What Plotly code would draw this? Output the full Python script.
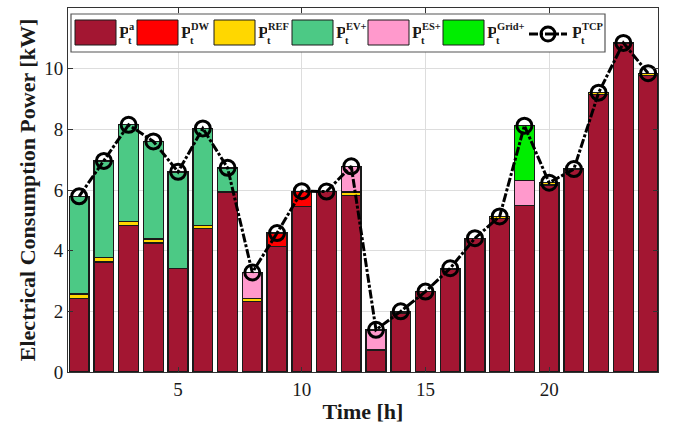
import plotly.graph_objects as go

hours = list(range(1, 25))
P_a   = [2.43, 3.63, 4.83, 4.25, 3.42, 4.74, 5.93, 2.32, 4.14, 5.46, 5.95, 5.82,
         0.73, 1.94, 2.65, 3.37, 4.41, 5.07, 5.48, 6.17, 6.69, 9.15, 10.85, 9.78]
P_dw  = [0, 0, 0, 0, 0, 0, 0, 0, 0.44, 0.50, 0, 0,
         0, 0, 0, 0, 0, 0, 0, 0, 0, 0, 0, 0]
P_ref = [0.14, 0.14, 0.13, 0.13, 0, 0.09, 0, 0.11, 0, 0, 0, 0.11,
         0, 0.06, 0, 0.05, 0, 0.06, 0, 0.07, 0, 0.06, 0, 0.07]
P_ev  = [3.22, 3.19, 3.19, 3.22, 3.18, 3.20, 0.80, 0, 0, 0, 0, 0,
         0, 0, 0, 0, 0, 0, 0, 0, 0, 0, 0, 0]
P_es  = [0, 0, 0, 0, 0, 0, 0, 0.85, 0, 0, 0, 0.85,
         0.66, 0, 0, 0, 0, 0, 0.83, 0, 0, 0, 0, 0]
P_grid = [0, 0, 0, 0, 0, 0, 0, 0, 0, 0, 0, 0,
          0, 0, 0, 0, 0, 0, 1.81, 0, 0, 0, 0, 0]
P_tcp = [5.79, 6.96, 8.15, 7.60, 6.60, 8.03, 6.73, 3.28, 4.58, 5.96, 5.95, 6.78,
         1.39, 2.00, 2.65, 3.42, 4.41, 5.13, 8.12, 6.24, 6.69, 9.21, 10.85, 9.85]

series_sup = ["a", "DW", "REF", "EV+", "ES+", "Grid+"]
series_vals = [P_a, P_dw, P_ref, P_ev, P_es, P_grid]
series_cols = ["#A31632", "#FF0000", "#FFD700", "#4CC985", "#FF99CC", "#00EE00"]
tcp_sup = "TCP"

FONT = "Liberation Serif"
TXT = "#1a1a1a"
W, H = 679, 433
ML, MR, MT, MB = 68, 21, 8, 61
PW, PH = W - ML - MR, H - MT - MB


def px(sx):
    return (sx - ML) / PW


def py(sy):
    return (H - MB - sy) / PH


fig = go.Figure()
for sup, vals, col in zip(series_sup, series_vals, series_cols):
    fig.add_trace(go.Bar(
        x=hours, y=vals, name="P_t^" + sup, width=0.8, showlegend=False,
        marker=dict(color=col, line=dict(color="#1a1a1a", width=1.4)),
    ))

TCP_DASH = "9px,2px,3px,2px"
fig.add_trace(go.Scatter(
    x=hours, y=P_tcp, name="P_t^" + tcp_sup, mode="lines+markers", showlegend=False,
    line=dict(color="black", width=3, dash=TCP_DASH),
    marker=dict(symbol="circle-open", size=15, color="black", line=dict(width=3)),
))

# ---- custom legend (large swatches, stacked sub/superscripts as in the reference)
shapes = []
annotations = []


def label(xp, text_sup):
    annotations.append(dict(xref="paper", yref="paper", x=px(xp), y=py(33),
                            xanchor="left", yanchor="middle", showarrow=False,
                            width=9, align="left", borderpad=0,
                            text="<b>P</b>", font=dict(family=FONT, size=17, color=TXT)))
    annotations.append(dict(xref="paper", yref="paper", x=px(xp + 10), y=py(26),
                            xanchor="left", yanchor="middle", showarrow=False, borderpad=0,
                            text="<b>" + text_sup + "</b>", font=dict(family=FONT, size=10.5, color=TXT)))
    annotations.append(dict(xref="paper", yref="paper", x=px(xp + 9), y=py(40),
                            xanchor="left", yanchor="middle", showarrow=False, borderpad=0,
                            text="<b>t</b>", font=dict(family=FONT, size=10.5, color=TXT)))


shapes.append(dict(type="rect", xref="paper", yref="paper",
                   x0=px(71), x1=px(605), y0=py(52), y1=py(14),
                   fillcolor="white", line=dict(color="#555555", width=1.2), layer="above"))
swatch_left = [75, 137, 214, 292, 368, 443]
for sx, col, sup in zip(swatch_left, series_cols, series_sup):
    shapes.append(dict(type="rect", xref="paper", yref="paper",
                       x0=px(sx), x1=px(sx + 41), y0=py(45), y1=py(20),
                       fillcolor=col, line=dict(color="#1a1a1a", width=1), layer="above"))
    label(sx + 43, sup)

# TCP line sample
lyc = 34
shapes.append(dict(type="line", xref="paper", yref="paper",
                   x0=px(529), x1=px(567), y0=py(lyc), y1=py(lyc),
                   line=dict(color="black", width=3, dash=TCP_DASH), layer="above"))
shapes.append(dict(type="circle", xref="paper", yref="paper",
                   x0=px(541), x1=px(555), y0=py(lyc + 7), y1=py(lyc - 7),
                   fillcolor="rgba(0,0,0,0)", line=dict(color="black", width=3), layer="above"))
label(571, tcp_sup)

axis_common = dict(
    showline=True, linecolor="#333333", linewidth=1, mirror="ticks",
    ticks="inside", ticklen=5, tickcolor="#333333",
    showgrid=True, gridcolor="#dddddd", gridwidth=1, zeroline=False,
    tickfont=dict(family=FONT, size=19, color=TXT),
    tickprefix="<b>", ticksuffix="</b>",
)

fig.update_layout(
    barmode="stack",
    width=W, height=H,
    margin=dict(l=ML, r=MR, t=MT, b=MB, autoexpand=False),
    paper_bgcolor="white", plot_bgcolor="white",
    font=dict(family=FONT, color=TXT),
    xaxis=dict(axis_common, range=[0.55, 24.4], tickvals=[5, 10, 15, 20],
               title=dict(text="<b>Time [h]</b>", font=dict(family=FONT, size=22), standoff=4)),
    yaxis=dict(axis_common, range=[0, 12], tickvals=[0, 2, 4, 6, 8, 10, 12],
               title=dict(text="<b>Electrical Consumption Power [kW]</b>", font=dict(family=FONT, size=22), standoff=2)),
    showlegend=False,
    shapes=shapes,
    annotations=annotations,
    bargap=0.2,
)

fig.write_html("out.html", config={"displayModeBar": False},
               post_script="document.body.style.margin='0px';")
